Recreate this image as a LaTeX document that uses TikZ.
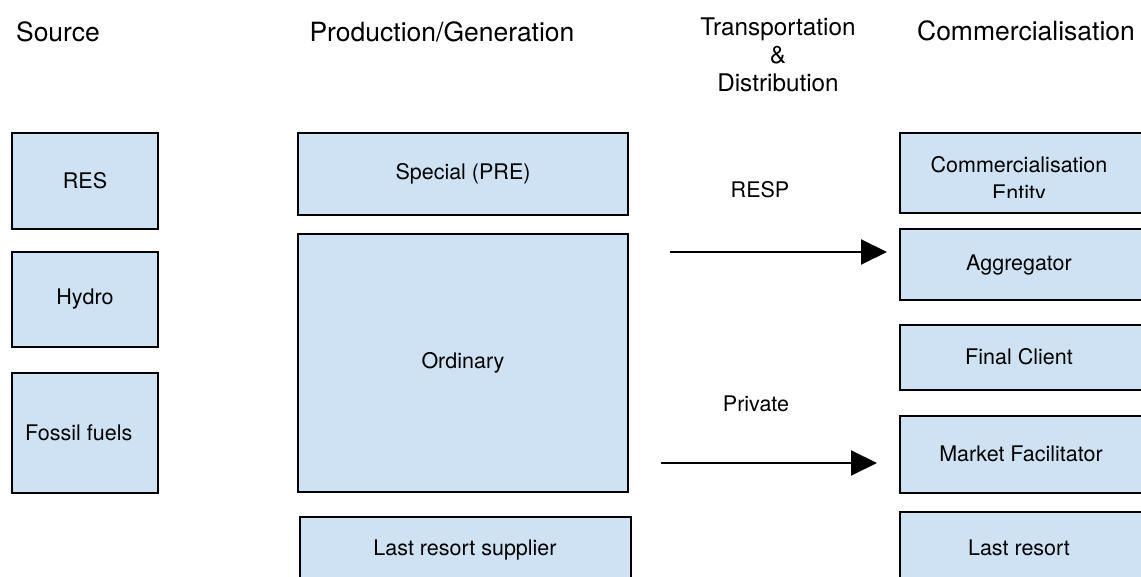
\documentclass[tikz,border=0pt]{standalone}
\usepackage{fontspec}
\setmainfont{TeX Gyre Heros}
\usetikzlibrary{arrows.meta}
\definecolor{boxfill}{HTML}{CFE2F3}
\tikzset{
  box/.style={draw=black, line width=1.6pt, fill=boxfill, inner sep=0pt,
    font=\fontsize{21.5}{25}\selectfont},
  head/.style={font=\fontsize{26.5}{30}\selectfont, inner sep=0pt},
  label/.style={font=\fontsize{21.5}{25}\selectfont, inner sep=0pt},
  flow/.style={line width=2pt, -{Triangle[length=26pt,width=25pt]}},
}
\newcommand{\boxat}[6]{% name, x1, y1, x2, y2, text
  \node[box, minimum width={#4-#2}, minimum height={#5-#3}] (#1)
    at ({(#2+#4)/2},{(#3+#5)/2}) {#6};}
\begin{document}
\begin{tikzpicture}[x=1pt, y=-1pt]
\useasboundingbox (0,0) rectangle (1141,577);
\clip (0,0) rectangle (1141,577);

% column headings
\node[head] (hsource) at (58,32) {Source};
\node[head] (hprod) at (442,32) {Production/Generation};
\node[head, align=center, font=\fontsize{24.3}{28}\selectfont] (htrans) at (778,55)
  {Transportation\\\&\\Distribution};
\node[head] (hcomm) at (1026,31) {Commercialisation};

% sources
\boxat{res}{12}{133}{158}{229}{RES}
\boxat{hydro}{12}{252}{158}{347}{Hydro}
\boxat{fossil}{12}{373}{158}{493}{}
\node[label, anchor=west] (fosstext) at (25,433) {Fossil fuels};

% production / generation
\boxat{special}{298}{133}{628}{215}{Special (PRE)}
\boxat{ordinary}{298}{234}{628}{492}{Ordinary}
\boxat{lastsup}{300}{517}{631}{600}{}
\node[label] (lastsuptext) at (465,550) {Last resort supplier};

% commercialisation
\boxat{entity}{900}{133}{1160}{213}{}
\begin{scope}
  \clip (entity.north west) rectangle (1160,198);
  \node[label, align=center, font=\fontsize{21.5}{28}\selectfont]
    (entitytext) at (1019,181) {Commercialisation\\Entity};
\end{scope}
\boxat{aggr}{900}{229}{1160}{300}{}
\node[label] (aggrtext) at (1019,265) {Aggregator};
\boxat{final}{900}{325}{1160}{390}{}
\node[label] (finaltext) at (1019,357) {Final Client};
\boxat{market}{900}{416}{1160}{493}{}
\node[label] (markettext) at (1021,454) {Market Facilitator};
\boxat{lastres}{900}{512}{1160}{600}{}
\node[label] (lastrestext) at (1019,548) {Last resort};

% transport routes
\node[label] (resp) at (760,190) {RESP};
\node[label] (private) at (756,404) {Private};
\coordinate (respstart) at (670,252);
\coordinate (respend) at (887,252);
\coordinate (privstart) at (661,463);
\coordinate (privend) at (877,463);
\draw[flow] (respstart) -- (respend);
\draw[flow] (privstart) -- (privend);
\end{tikzpicture}
\end{document}
